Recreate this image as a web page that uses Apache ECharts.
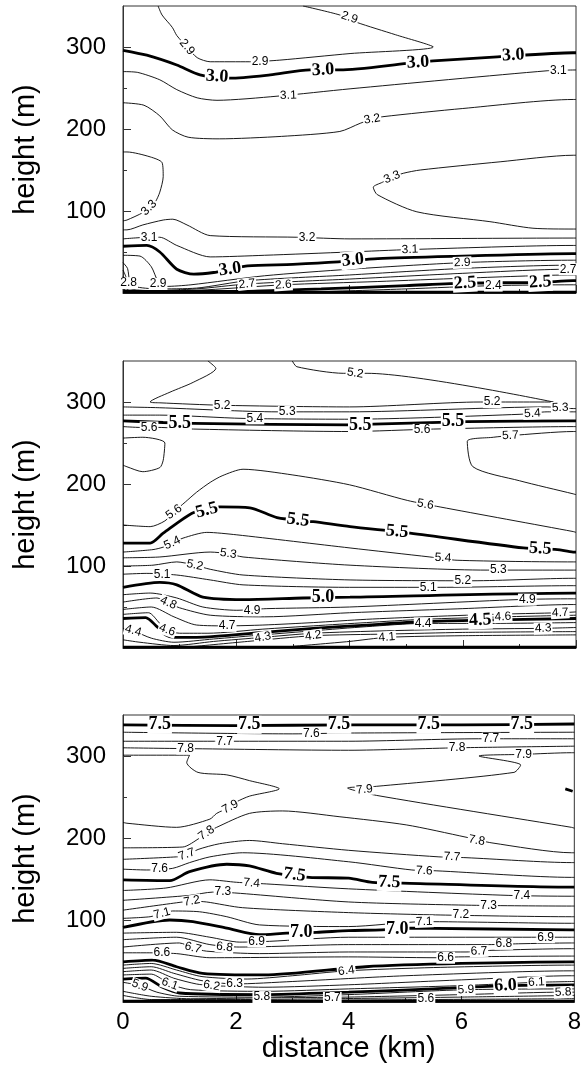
<!DOCTYPE html>
<html>
<head>
<meta charset="utf-8">
<script src="https://cdn.jsdelivr.net/npm/echarts@6/dist/echarts.min.js"></script>
<style>
html,body{margin:0;padding:0;background:#fff}
#chart{width:584px;height:1076px}
</style>
</head>
<body>
<div id="chart"></div>
<script>
// Axis ticks (distance in km, height in m)
const distanceTicks = [0, 2, 4, 6, 8];
const heightLabels = [100, 200, 300];
const heightMinorTicks = [50, 150, 250];

// Contour lines: [level, [[distance km, height m], ...]]
const contoursTop = [
  [2.9, [[0.62,350],[0.69,339],[0.87,324],[0.95,314],[1.13,300],[1.31,287],[1.54,282],[2.24,282],[2.77,284],[4.01,292],[5.48,300],[4.81,315],[4.13,330],[3.83,339],[3.18,350]]],
  [3.0, [[0,296],[0.42,290],[0.95,278],[1.36,266],[1.89,262],[2.6,266],[3.3,272],[3.83,272],[5.02,280],[5.48,283],[6.61,288],[7.95,293],[8,293]]],
  [3.1, [[0,270],[0.26,269],[0.65,260],[0.95,248],[1.31,238],[1.66,235],[2.72,240],[4.01,249],[7.49,271],[8,272]]],
  [3.2, [[0,232],[0.37,229],[0.65,216],[0.87,199],[1.15,190],[1.7,188],[2.8,191],[3.83,197],[4.19,207],[4.4,212],[4.59,215],[6,225],[7.95,236],[8,236]]],
  [3.3, [[0,172],[0.07,172],[0.48,166],[0.69,159],[0.71,142],[0.65,123],[0.57,111],[0.46,104],[0.35,98],[0.07,89],[0,88]]],
  [3.3, [[8,168],[7.95,168],[6.66,160],[5.25,150],[4.95,146],[4.75,141],[4.58,135],[4.42,129],[4.49,120],[5.19,99],[6.48,87],[7.24,79],[7.95,78],[8,78]]],
  [3.2, [[0,77],[0.07,77],[0.35,83],[0.71,89],[0.88,90],[1.13,83],[1.54,70],[3.07,68],[4.01,66],[7.95,67],[8,67]]],
  [3.1, [[0,66],[0.46,68],[0.65,68],[0.95,58],[1.54,44],[2.5,46],[4.0,50],[5.07,53],[7.95,58],[8,58]]],
  [3.0, [[0,57],[0.42,58],[0.65,50],[0.95,29],[1.25,23],[1.6,25],[1.89,29],[2.2,33],[3.0,35],[3.8,38],[4.5,42],[6,45],[7.95,48],[8,48]]],
  [2.9, [[0,46],[0.3,45],[0.5,32],[0.62,14],[0.75,8],[1.2,10],[2.5,21],[4,29],[5.99,37],[7.95,40],[8,40]]],
  [2.8, [[0,37],[0.08,30],[0.12,14],[0.2,8],[0.6,5],[1.3,6],[2.2,15],[4,22],[6,30],[7.95,34],[8,34]]],
  [2.7, [[0,28],[0.05,20],[0.1,6],[0.5,3],[1.3,5],[2.19,11],[4,17],[6,24],[7.86,29],[8,29]]],
  [2.6, [[0,20],[0.05,5],[0.5,2],[1.5,4],[2.83,10],[4.5,14],[6,18],[7.95,22],[8,22]]],
  [2.5, [[0,10],[0.05,2],[2.0,2],[3.5,5],[5,9],[6.04,12],[7.37,13],[7.95,15],[8,15]]],
  [2.4, [[3.5,1.5],[5,5],[6.54,9],[7.95,10],[8,10]]],
  [2.0, [[0,1],[8,1]]]
];
const labelsTop = [
  [1.13,300,'2.9'],[2.42,282,'2.9'],[4.0,336,'2.9'],
  [1.66,264,'3.0'],[3.53,272,'3.0'],[5.21,281,'3.0'],[6.89,290,'3.0'],
  [2.92,241,'3.1'],[7.69,271,'3.1'],[4.4,212,'3.2'],
  [0.46,104,'3.3'],[4.75,141,'3.3'],
  [3.25,68,'3.2'],[0.46,68,'3.1'],[5.07,53,'3.1'],
  [1.89,29,'3.0'],[4.06,40,'3.0'],[5.99,37,'2.9'],[7.86,29,'2.7'],
  [0.1,12,'2.8'],[0.62,11,'2.9'],[2.19,11,'2.7'],[2.83,10,'2.6'],
  [6.04,12,'2.5'],[6.54,9,'2.4'],[7.37,13,'2.5']
];
const anglesTop = [-50,0,-19, -4,3,3,3, 2,0,10, 45,22, 0,0,2, 8,6,2,0, 0,0,6,4, 3,0,3];

const contoursMid = [
  [5.2, [[1.50,350],[1.64,341],[1.24,324],[0.83,312],[0.48,300],[0.65,299],[1.75,296],[4.0,294],[6.31,300],[7.6,300],[4.31,335],[3.89,335],[3.07,343],[2.99,350]]],
  [5.3, [[0,294],[0.65,293],[2.72,288],[4.0,288],[7.49,294],[7.95,292],[8,292]]],
  [5.4, [[0,284],[0.65,284],[2.12,280],[4.0,279],[7.01,285],[7.49,288],[7.95,288],[8,288]]],
  [5.5, [[0,277],[0.71,275],[1.24,274],[4.0,272],[4.42,273],[6.08,276],[7.95,277],[8,277]]],
  [5.6, [[0,270],[0.3,269],[0.62,269],[1.24,267],[4.0,264],[5.48,267],[7.95,270],[8,270]]],
  [5.7, [[8,264],[7.95,264],[6.84,259],[6.54,257],[6.08,252],[6.18,221],[7.0,204],[7.95,188],[8,187]]],
  [5.7, [[0,256],[0.35,257],[0.74,250],[0.71,229],[0.65,220],[0.35,215],[0.07,221],[0,223]]],
  [5.6, [[0,150],[0.48,148],[0.74,155],[0.9,166],[1.1,178],[1.3,190],[1.54,202],[1.75,210],[2.12,218],[3.0,211],[4.0,199],[5.02,180],[5.6,172],[7.95,142],[8,141]]],
  [5.5, [[0,128],[0.48,128],[0.71,140],[1.24,165],[1.71,172],[2.24,171],[2.72,159],[3.36,154],[4.01,148],[5.07,140],[7.07,122],[7.67,120],[7.95,117],[8,117]]],
  [5.4, [[0,117],[0.53,120],[0.71,123],[0.87,128],[1.06,134],[1.48,141],[2.01,138],[4.01,122],[5.42,111],[5.9,107],[7.95,105],[8,105]]],
  [5.3, [[0,110],[0.65,111],[1.54,117],[1.86,115],[2.12,111],[4.01,101],[6.43,95],[7.95,95],[8,95]]],
  [5.2, [[0,100],[0.53,101],[0.95,105],[1.27,101],[1.54,96],[2.12,89],[4.01,83],[6.18,82],[7.95,85],[8,85]]],
  [5.1, [[0,90],[0.42,91],[0.95,89],[1.54,83],[2.12,77],[4.0,74],[5.6,74],[7.95,76],[8,76]]],
  [5.0, [[0,74],[0.65,80],[0.95,77],[1.41,62],[2.12,59],[3.18,61],[4.01,62],[7.95,67],[8,67]]],
  [4.9, [[0,65],[0.48,67],[0.95,61],[1.41,50],[2.01,46],[2.54,48],[4.0,50],[6.96,59],[7.95,60],[8,60]]],
  [4.8, [[0,56],[0.6,61],[0.8,55],[1.0,49],[1.54,40],[2.5,38],[4.0,43],[6,48],[7.95,53],[8,53]]],
  [4.7, [[0,47],[0.5,50],[0.9,38],[1.3,28],[1.84,27],[2.47,28],[3.36,31],[4.3,35],[5.3,38],[6.5,41],[7.72,43],[8,44]]],
  [4.6, [[0,41],[0.45,43],[0.65,30],[0.78,22],[1.0,18],[1.5,18],[2.47,23],[3.36,27],[4.3,31],[5.3,35],[6.71,38],[8,40]]],
  [4.5, [[0,36],[0.4,37],[0.6,26],[0.75,16],[0.9,13],[1.3,13],[2.47,19],[3.36,24],[4.3,28],[5.3,32],[6.31,34],[8,36]]],
  [4.4, [[0,24],[0.18,21],[0.5,12],[0.9,7],[1.6,11],[2.47,16],[3.36,21],[4.3,26],[5.3,30],[6.5,30],[8,31]]],
  [4.3, [[0,10],[0.3,7],[0.9,3],[1.6,8],[2.47,13],[3.36,18],[4.66,21],[6,23],[7.42,24],[8,25]]],
  [4.2, [[1.2,1.5],[2.2,8],[3.36,15],[4.66,17],[6,19],[8,20]]],
  [4.1, [[3,2],[4,8],[4.66,13],[6,15],[8,16]]],
  [4.0, [[0,1],[8,1]]]
];
const labelsMid = [
  [1.75,296,'5.2'],[6.52,300,'5.2'],[4.1,335,'5.2'],
  [2.9,288,'5.3'],[7.72,293,'5.3'],[2.33,280,'5.4'],[7.23,286,'5.4'],
  [1.0,274,'5.5'],[4.19,272,'5.5'],[5.83,276,'5.5'],
  [0.46,269,'5.6'],[5.28,266,'5.6'],[6.84,259,'5.7'],
  [0.9,166,'5.6'],[5.34,175,'5.6'],
  [1.48,168,'5.5'],[3.09,156,'5.5'],[4.84,142,'5.5'],[7.37,121,'5.5'],
  [0.87,128,'5.4'],[5.65,110,'5.4'],[1.86,115,'5.3'],[6.63,95,'5.3'],
  [1.27,101,'5.2'],[6.0,82,'5.2'],[0.69,90,'5.1'],[5.39,74,'5.1'],
  [3.53,62,'5.0'],[2.28,46,'4.9'],[7.14,59,'4.9'],[0.8,55,'4.8'],
  [1.84,27,'4.7'],[7.72,43,'4.7'],[0.78,22,'4.6'],[6.71,38,'4.6'],
  [6.31,34,'4.5'],[0.18,21,'4.4'],[5.3,30,'4.4'],
  [2.47,13,'4.3'],[7.42,24,'4.3'],[3.36,15,'4.2'],[4.66,13,'4.1']
];
const anglesMid = [0,0,-9, 0,2,0,3, 0,0,0, 0,0,3, 35,-10, 15,-7,-5,-3, 25,-3,-8,0, -12,0,0,0, 0,0,0,-25, 0,3,-20,3, 3,-15,0, 10,2,8,5];

const contoursLow = [
  [7.5, [[0,338],[2,337],[4,338],[6,338],[8,339]]],
  [7.6, [[0,329],[3,327],[4,328],[8,329]]],
  [7.7, [[0,318],[1.5,318],[4,318],[6.3,321],[8,321]]],
  [7.8, [[0,310],[1.11,309],[4,307],[5.92,310],[8,312]]],
  [7.9, [[8,304],[7.95,304],[7.1,302],[6.31,300],[7.05,289],[6.93,280],[4.49,263],[3.98,261],[4.49,252],[7.95,213],[8,212]]],
  [7.9, [[0,301],[1.18,301],[1.13,292],[1.33,280],[1.84,277],[2.24,270],[2.77,260],[2.24,251],[2.01,244],[1.9,238],[1.66,230],[1.54,223],[0.95,213],[0.07,218],[0,219]]],
  [7.5, [[7.84,260],[7.97,257]]],
  [7.8, [[0,188],[1.06,189],[1.36,200],[1.48,206],[1.66,213],[2.24,230],[2.83,233],[3.83,226],[5.02,216],[6.08,201],[6.54,194],[7.95,182],[8,182]]],
  [7.7, [[0,174],[0.95,177],[1.13,179],[1.33,186],[1.71,193],[2.24,197],[2.83,193],[4.0,185],[5.6,177],[6.08,176],[7.95,170],[8,170]]],
  [7.6, [[0,162],[0.42,161],[0.88,163],[1.18,170],[1.54,177],[2.12,182],[4.0,171],[5.12,161],[5.55,160],[7.95,152],[8,152]]],
  [7.5, [[0,149],[0.83,148],[1.18,159],[1.84,168],[2.24,166],[2.72,157],[3.3,152],[4.0,151],[4.42,146],[4.95,145],[7.95,140],[8,140]]],
  [7.4, [[0,136],[0.76,139],[1.54,149],[2.01,146],[2.54,144],[4.0,138],[6.84,130],[7.95,129],[8,129]]],
  [7.3, [[0,124],[1.18,130],[1.59,134],[1.98,133],[4.0,122],[6.18,118],[7.95,117],[8,117]]],
  [7.2, [[0,112],[0.95,121],[1.22,123],[1.48,122],[2.12,115],[4.0,109],[5.72,106],[7.95,104],[8,104]]],
  [7.1, [[0,102],[0.48,104],[0.69,108],[0.88,111],[1.36,110],[1.84,104],[2.42,94],[4.0,92],[5.34,98],[7.95,96],[8,96]]],
  [7.0, [[0,91],[0.83,100],[1.24,98],[1.84,90],[2.42,82],[2.9,84],[3.43,85],[4.0,87],[4.59,88],[5.1,90],[7.95,88],[8,88]]],
  [6.9, [[0,84],[0.95,85],[1.54,79],[2.07,73],[2.6,74],[4.0,79],[7.24,79],[7.95,79],[8,79]]],
  [6.8, [[0,76],[0.95,79],[1.54,70],[2.07,67],[4.0,70],[6.48,70],[7.01,71],[7.95,72],[8,72]]],
  [6.7, [[0,67],[1.0,72],[1.24,66],[1.48,62],[2.42,59],[4.0,61],[6.08,61],[6.54,63],[7.95,65],[8,65]]],
  [6.6, [[0,60],[0.42,60],[0.95,59],[1.54,54],[4.0,55],[5.55,54],[5.95,55],[7.95,56],[8,56]]],
  [6.5, [[0,49],[0.53,51],[0.95,43],[1.41,35],[2.5,33],[4.3,43],[6,47],[7.95,49],[8,49]]],
  [6.4, [[0,45],[0.5,47],[0.95,39],[1.4,31],[2.2,28],[3.0,32],[3.96,38],[5.5,42],[7.95,45],[8,45]]],
  [6.3, [[0,41],[0.5,43],[0.9,35],[1.4,26],[1.98,22],[3,25],[5,32],[7.95,38],[8,38]]],
  [6.2, [[0,37],[0.5,39],[0.9,29],[1.3,22],[1.57,20],[2.5,18],[4,21],[6,27],[7.95,32],[8,32]]],
  [6.1, [[0,33],[0.5,34],[0.83,22],[1.2,15],[2.5,13],[4,16],[6,20],[7.33,24],[8,25]]],
  [6.0, [[0,28],[0.4,29],[0.7,18],[1.0,11],[2.5,9],[4,12],[5.5,16],[6.78,20],[8,21]]],
  [5.9, [[0,24],[0.3,20],[0.6,12],[1.0,7],[2.5,6],[4,9],[6.08,15],[8,16]]],
  [5.8, [[0,13],[0.5,7],[1.2,4],[2.46,5],[4,6],[6,9],[7.8,12],[8,12]]],
  [5.7, [[0,8],[0.5,3],[2,3],[3.71,4],[6,6],[8,8]]],
  [5.6, [[2.5,1.5],[5.37,3],[8,4]]],
  [5.5, [[0,1],[8,1]]]
];
const labelsLow = [
  [0.65,338,'7.5'],[2.24,338,'7.5'],[3.83,338,'7.5'],[5.42,338,'7.5'],[7.07,338,'7.5'],
  [3.34,327,'7.6'],[1.8,318,'7.7'],[6.52,321,'7.7'],[1.11,309,'7.8'],[5.92,310,'7.8'],[7.1,302,'7.9'],
  [4.28,259,'7.9'],[1.9,238,'7.9'],
  [1.48,206,'7.8'],[6.27,197,'7.8'],[1.13,180,'7.7'],[5.83,177,'7.7'],
  [0.65,162,'7.6'],[5.34,160,'7.6'],[3.04,155,'7.5'],[4.72,146,'7.5'],
  [2.28,145,'7.4'],[7.07,130,'7.4'],[1.77,134,'7.3'],[6.48,118,'7.3'],
  [1.22,123,'7.2'],[5.99,106,'7.2'],[0.69,108,'7.1'],[5.34,98,'7.1'],
  [3.16,85,'7.0'],[4.86,89,'7.0'],[2.37,74,'6.9'],[7.49,79,'6.9'],
  [1.8,67,'6.8'],[6.75,71,'6.8'],[1.24,66,'6.7'],[6.31,62,'6.7'],
  [0.69,60,'6.6'],[5.72,54,'6.6'],[3.96,38,'6.4'],
  [0.3,20,'5.9'],[0.83,22,'6.1'],[1.57,20,'6.2'],[1.98,22,'6.3'],
  [2.46,6,'5.8'],[3.71,5,'5.7'],[5.37,4,'5.6'],
  [6.08,15,'5.9'],[6.78,20,'6.0'],[7.33,24,'6.1'],[7.8,12,'5.8']
];
const anglesLow = [0,0,0,0,0, 0,0,0,0,0,0, 6,28, 35,-10,20,-3, 0,-3,-8,-2, -5,0,0,0, 10,0,15,2, 0,0,0,0, -8,0,-15,2, 0,0,8, -20,-20,-10,0, 0,0,0, 3,3,3,3];

const panels = [
  { contours: contoursTop, labels: labelsTop, angles: anglesTop, top: 6 },
  { contours: contoursMid, labels: labelsMid, angles: anglesMid, top: 361 },
  { contours: contoursLow, labels: labelsLow, angles: anglesLow, top: 715 }
];

const isBold = v => Math.abs(v * 2 - Math.round(v * 2)) < 1e-6;
const frameColor = '#333';
const sans = 'Liberation Sans, Arial, sans-serif';
const tickFont = { fontFamily: sans, fontSize: 24, color: '#000' };
const nameFont = { fontFamily: sans, fontSize: 29, color: '#000' };

const grid = [], xAxis = [], yAxis = [], series = [];
panels.forEach((p, i) => {
  grid.push({ left: 123, right: 8, top: p.top, height: 287, show: true,
    borderColor: frameColor, borderWidth: 1, backgroundColor: 'transparent' });
  const last = i === panels.length - 1;
  xAxis.push({
    type: 'value', gridIndex: i, min: 0, max: 8, interval: 2,
    axisLine: { show: true, lineStyle: { color: frameColor, width: 1 } },
    axisTick: { show: true, inside: true, length: 8, lineStyle: { color: frameColor } },
    minorTick: { show: true, splitNumber: 2, length: 4, lineStyle: { color: frameColor } },
    splitLine: { show: false }, minorSplitLine: { show: false },
    axisLabel: Object.assign({ show: last, margin: 8, customValues: distanceTicks }, tickFont),
    name: last ? 'distance (km)' : '', nameLocation: 'middle', nameGap: 32,
    nameTextStyle: nameFont
  });
  yAxis.push({
    type: 'value', gridIndex: i, min: 0, max: 350, position: 'left',
    axisLine: { show: true, lineStyle: { color: frameColor, width: 1 } },
    axisTick: { show: true, inside: true, length: 8, customValues: heightLabels, lineStyle: { color: frameColor } },
    splitLine: { show: false },
    axisLabel: Object.assign({ margin: 17, customValues: heightLabels }, tickFont),
    name: 'height (m)', nameLocation: 'middle', nameGap: 83, nameRotate: 90,
    nameTextStyle: nameFont
  });
});
panels.forEach((p, i) => {
  yAxis.push({
    type: 'value', gridIndex: i, min: 0, max: 350, position: 'left', offset: 0,
    axisLine: { show: false },
    axisTick: { show: true, inside: true, length: 4, customValues: heightMinorTicks, lineStyle: { color: frameColor } },
    axisLabel: { show: false }, splitLine: { show: false }
  });
});

panels.forEach((p, i) => {
  p.contours.forEach(([level, pts]) => {
    series.push({
      type: 'line', xAxisIndex: i, yAxisIndex: i, data: pts,
      symbol: 'none', showSymbol: false, smooth: 0.25, silent: true, clip: true,
      lineStyle: { color: '#000', width: isBold(level) ? 2.8 : 0.9 },
      z: 2, animation: false
    });
  });
  // value labels sitting on the contour lines, on an opaque white box
  series.push({
    type: 'scatter', xAxisIndex: i, yAxisIndex: i, symbolSize: 0, silent: true,
    itemStyle: { color: '#fff', opacity: 1 }, z: 5, animation: false,
    data: p.labels.map(([x, y, t], k) => {
      const bold = isBold(parseFloat(t));
      return {
        value: [x, y],
        label: {
          show: true, position: [0, 0], align: 'center', verticalAlign: 'middle',
          formatter: t, rotate: p.angles[k] || 0,
          color: '#000', backgroundColor: '#fff', padding: [0, 1],
          textBorderWidth: 0, opacity: 1,
          fontFamily: bold ? 'Liberation Serif, Times New Roman, serif' : sans,
          fontWeight: bold ? 'bold' : 'normal', fontSize: bold ? 18 : 12
        }
      };
    })
  });
});

const chart = echarts.init(document.getElementById('chart'), null, { renderer: 'canvas' });
chart.setOption({ animation: false, backgroundColor: '#fff', grid, xAxis, yAxis, series });
</script>
</body>
</html>
